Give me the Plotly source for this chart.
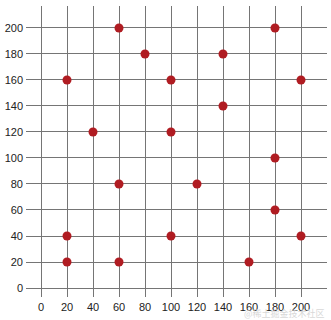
import plotly.graph_objects as go

x_vals = [60, 180, 80, 140, 20, 100, 200, 140, 40, 100, 180, 60, 120, 180, 20, 100, 200, 20, 60, 160]
y_vals = [200, 200, 180, 180, 160, 160, 160, 140, 120, 120, 100, 80, 80, 60, 40, 40, 40, 20, 20, 20]
tick_vals = [0, 20, 40, 60, 80, 100, 120, 140, 160, 180, 200]
tick_text = [str(v) for v in tick_vals]

fig = go.Figure()
fig.add_trace(go.Scatter(
    x=x_vals, y=y_vals, mode="markers",
    marker=dict(size=9, color="#b01c22", line=dict(width=0)),
    hoverinfo="skip",
))

axis_common = dict(
    tickvals=tick_vals, ticktext=tick_text, showgrid=True, gridcolor="#757575",
    gridwidth=1, zeroline=False, showline=False, ticks="",
    tickfont=dict(size=11, color="#222222", family="Liberation Sans"),
)
fig.update_xaxes(range=[-11.54, 220], ticklabelstandoff=2, **axis_common)
fig.update_yaxes(range=[-6.92, 216.9], ticklabelstandoff=2, **axis_common)

fig.add_annotation(
    text="@稀土掘金技术社区", xref="paper", yref="paper", x=1.0, y=-0.055,
    xanchor="right", yanchor="middle", showarrow=False,
    font=dict(size=9, color="#d8d8d8", family="Noto Sans CJK SC"),
)

fig.update_layout(
    width=331, height=320, margin=dict(l=26, r=4, t=6, b=23),
    plot_bgcolor="white", paper_bgcolor="white", showlegend=False,
)
fig.write_html("out.html")
